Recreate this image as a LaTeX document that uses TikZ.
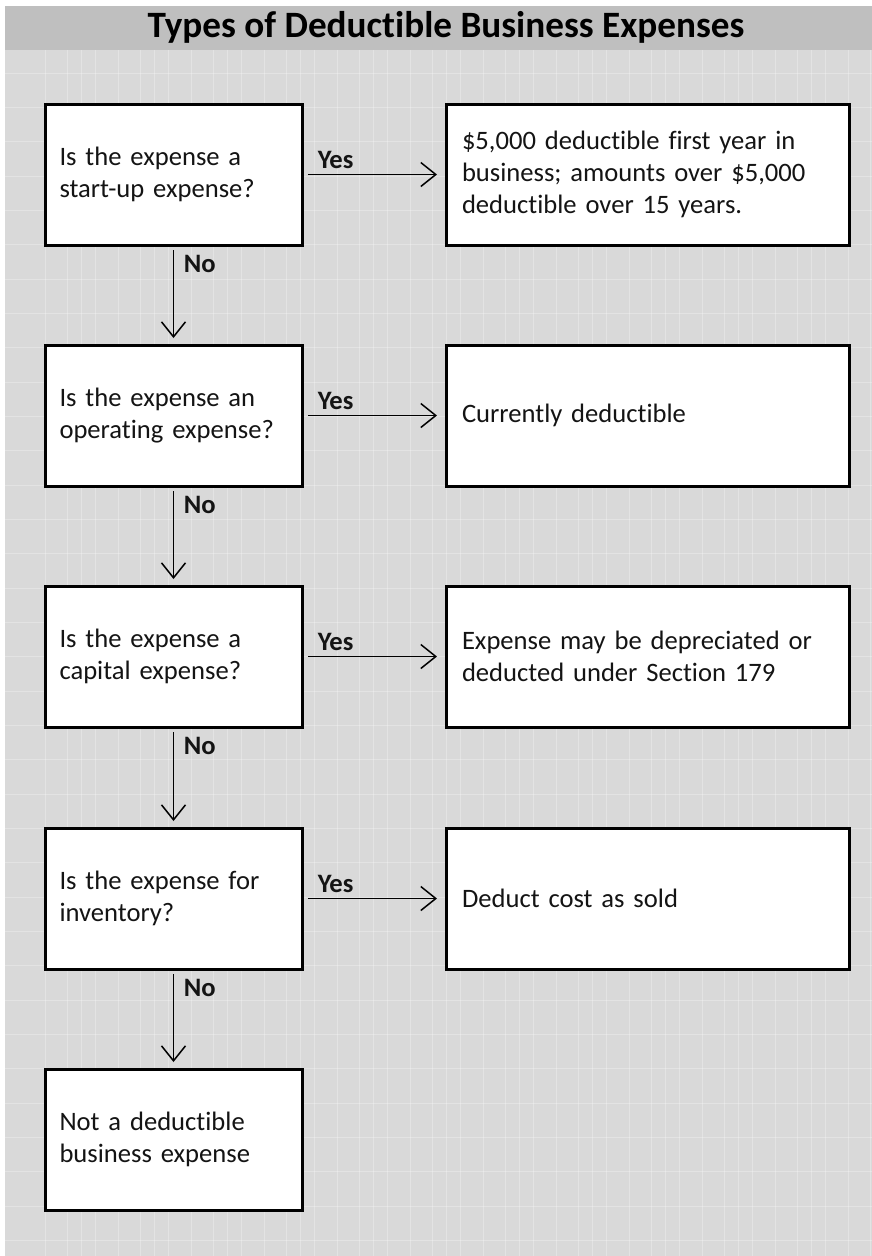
\documentclass[tikz,border=0pt]{standalone}
\usepackage{fontspec}
\setmainfont[Ligatures=NoCommon]{Carlito}
\usetikzlibrary{arrows.meta}
\definecolor{panel}{HTML}{D9D9D9}
\definecolor{band}{HTML}{BFBFBF}
\definecolor{ink}{HTML}{141414}
\tikzset{
  gridl/.style={draw=white, opacity=0.28, line width=0.7pt},
  box/.style={draw=black, line width=3pt, fill=white, minimum height=141pt,
    inner sep=0pt, font=\fontsize{26.6}{32}\selectfont, text=ink},
  qbox/.style={box, minimum width=257pt, text width=228pt, align=left},
  abox/.style={box, minimum width=403pt, text width=371pt, align=left},
  arr/.style={line width=1.5pt, -{Straight Barb[length=15pt,width=24pt]}},
  lbl/.style={font=\bfseries\fontsize{26.6}{32}\selectfont, text=ink, inner sep=0pt},
  ttl/.style={font=\bfseries\fontsize{37.2}{42}\selectfont, text=black, inner sep=0pt}
}
\begin{document}
\begin{tikzpicture}[x=1pt,y=-1pt]
\useasboundingbox (0,0) rectangle (872,1256);
\fill[white] (0,0) rectangle (872,1256);
\fill[panel] (5,6) rectangle (872,1256);
\foreach \k in {0,...,34}{\draw[gridl] (5,{73+34.33*\k}) -- (872,{73+34.33*\k});}
\foreach \p in {45,118,...,848}{\foreach \d in {0,22,36,50}{\draw[gridl] ({\p+\d},50) -- ({\p+\d},1256);}}
\fill[band] (5,6) rectangle (872,50);
\node[ttl, anchor=base] (title) at (446,37) {Types of Deductible Business Expenses};

\node[qbox] (q1) at (173.5,174.5) {Is the expense a\\start-up expense?};
\node[qbox] (q2) at (173.5,415.5) {Is the expense an\\operating expense?};
\node[qbox] (q3) at (173.5,656.5) {Is the expense a\\capital expense?};
\node[qbox] (q4) at (173.5,898.5) {Is the expense for\\inventory?};
\node[qbox] (q5) at (173.5,1139.5) {Not a deductible\\business expense};

\node[abox] (a1) at (647.5,174.5) {\makebox[371pt][s]{\$5,000 deductible first year in}\\\makebox[371pt][s]{business; amounts over \$5,000}\\deductible over 15 years.};
\node[abox] (a2) at (647.5,415.5) {Currently deductible};
\node[abox] (a3) at (647.5,656.5) {\makebox[371pt][s]{Expense may be depreciated or}\\deducted under Section 179};
\node[abox] (a4) at (647.5,898.5) {Deduct cost as sold};

\foreach \i in {1,2,3,4}{
  \draw[arr, shorten <=4.5pt, shorten >=7.5pt] (q\i.east) --
    node[lbl, pos=0, anchor=base west, xshift=13.5pt, yshift=6pt] {Yes} (a\i.west);
}
\foreach \i/\j in {1/2,2/3,3/4,4/5}{
  \draw[arr, shorten <=3.5pt, shorten >=5.5pt] (q\i.south) --
    node[lbl, pos=0, anchor=base west, xshift=9.5pt, yshift=-25.5pt] {No} (q\j.north);
}
\end{tikzpicture}
\end{document}
